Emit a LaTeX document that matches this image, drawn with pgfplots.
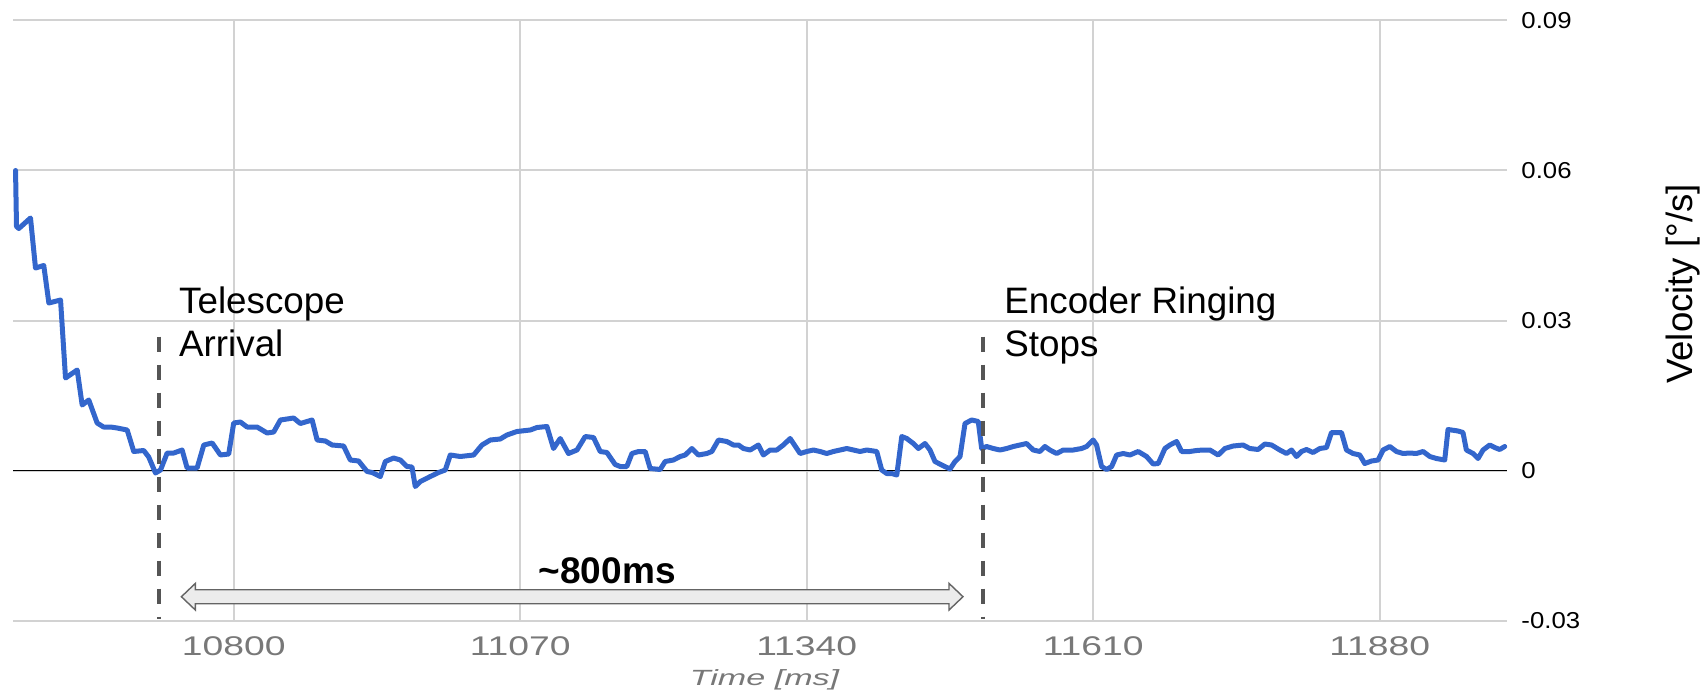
\documentclass[border=0pt]{standalone}
\usepackage{pgfplots}
\pgfplotsset{compat=1.18}
\usepackage{fontspec}
\setmainfont{Liberation Sans}
\definecolor{gline}{RGB}{51,102,204}
\definecolor{gridc}{RGB}{210,210,210}
\definecolor{dashc}{RGB}{85,85,85}
\definecolor{tickg}{RGB}{120,120,120}
\definecolor{arrfill}{RGB}{236,236,236}
\definecolor{arrdraw}{RGB}{100,100,100}

\pgfplotstableread{
t v
10594.4 0.0600
10595.3 0.0488
10597.5 0.0484
10608.5 0.0505
10613.2 0.0405
10621.0 0.0410
10625.8 0.0335
10636.8 0.0341
10641.5 0.0185
10652.5 0.0201
10657.2 0.0131
10663.4 0.0141
10671.3 0.0095
10677.3 0.0087
10683.9 0.0087
10690.2 0.0085
10699.6 0.0081
10705.8 0.0038
10715.2 0.0040
10719.9 0.0027
10726.3 -0.0005
10731.0 0.0001
10737.3 0.0035
10743.5 0.0035
10751.4 0.0041
10756.1 0.0005
10765.5 0.0005
10771.8 0.0051
10779.7 0.0055
10787.5 0.0031
10795.3 0.0033
10800.0 0.0095
10806.3 0.0097
10812.6 0.0087
10822.0 0.0087
10831.5 0.0075
10837.7 0.0077
10844.0 0.0101
10856.5 0.0105
10862.8 0.0094
10873.9 0.0101
10878.6 0.0061
10886.4 0.0059
10892.7 0.0051
10903.6 0.0049
10909.9 0.0021
10917.7 0.0019
10925.7 -0.0002
10930.4 -0.0004
10938.2 -0.0012
10942.9 0.0018
10950.7 0.0025
10957.0 0.0021
10963.3 0.0008
10968.0 0.0007
10971.1 -0.0032
10975.9 -0.0022
10985.3 -0.0012
10993.1 -0.0004
10999.4 0.0001
11004.1 0.0031
11013.5 0.0028
11026.1 0.0031
11034.0 0.0051
11041.8 0.0061
11051.2 0.0063
11057.5 0.0071
11066.9 0.0078
11079.5 0.0081
11085.8 0.0086
11095.2 0.0088
11101.4 0.0044
11107.7 0.0064
11115.5 0.0034
11123.5 0.0041
11131.3 0.0068
11139.1 0.0066
11145.4 0.0038
11151.7 0.0036
11159.5 0.0012
11164.2 0.0008
11170.5 0.0008
11175.3 0.0034
11181.5 0.0038
11187.8 0.0038
11192.5 0.0004
11201.9 0.0002
11206.6 0.0018
11214.4 0.0021
11220.8 0.0028
11225.5 0.0031
11231.8 0.0044
11238.0 0.0031
11245.9 0.0034
11250.6 0.0038
11256.8 0.0061
11264.7 0.0058
11271.0 0.0051
11275.7 0.0051
11280.4 0.0044
11286.7 0.0041
11294.5 0.0051
11299.2 0.0031
11305.5 0.0041
11311.8 0.0041
11318.0 0.0051
11324.4 0.0064
11333.8 0.0034
11340.1 0.0038
11346.3 0.0041
11352.6 0.0038
11358.9 0.0034
11365.1 0.0038
11371.5 0.0041
11377.8 0.0044
11384.0 0.0041
11390.3 0.0038
11396.6 0.0041
11406.0 0.0038
11410.7 0.0001
11415.4 -0.0006
11420.1 -0.0006
11424.9 -0.0009
11429.6 0.0068
11434.3 0.0064
11440.5 0.0054
11445.2 0.0044
11451.5 0.0054
11456.2 0.0041
11460.9 0.0018
11467.2 0.0011
11475.1 0.0003
11479.8 0.0018
11484.5 0.0028
11489.2 0.0094
11495.5 0.0101
11501.7 0.0098
11504.9 0.0044
11509.6 0.0048
11515.8 0.0044
11522.2 0.0041
11528.5 0.0044
11534.7 0.0048
11541.0 0.0051
11547.3 0.0054
11553.5 0.0041
11559.8 0.0038
11564.5 0.0048
11569.2 0.0041
11575.6 0.0034
11581.8 0.0041
11591.2 0.0041
11599.1 0.0044
11603.8 0.0048
11610.0 0.0061
11613.2 0.0051
11617.9 0.0008
11622.7 0.0002
11627.4 0.0008
11632.1 0.0031
11638.3 0.0034
11644.6 0.0031
11652.4 0.0038
11660.3 0.0028
11666.5 0.0013
11671.3 0.0014
11677.6 0.0044
11682.3 0.0051
11688.6 0.0058
11693.3 0.0038
11701.1 0.0038
11707.4 0.0040
11713.6 0.0041
11720.0 0.0041
11727.8 0.0031
11734.1 0.0044
11741.9 0.0049
11751.3 0.0051
11757.6 0.0044
11765.4 0.0042
11771.8 0.0053
11778.1 0.0051
11785.9 0.0041
11792.2 0.0034
11796.9 0.0041
11801.6 0.0028
11806.3 0.0038
11811.0 0.0042
11817.2 0.0036
11823.6 0.0044
11829.9 0.0046
11834.6 0.0076
11844.0 0.0076
11848.7 0.0041
11854.9 0.0034
11861.2 0.0031
11865.9 0.0014
11872.3 0.0019
11878.5 0.0021
11883.2 0.0041
11889.5 0.0048
11895.8 0.0038
11902.0 0.0034
11908.3 0.0035
11914.6 0.0034
11920.9 0.0038
11927.2 0.0028
11933.5 0.0024
11941.3 0.0021
11944.4 0.0082
11953.8 0.0079
11958.5 0.0076
11961.7 0.0041
11968.0 0.0034
11972.7 0.0024
11977.4 0.0041
11983.7 0.0051
11988.4 0.0046
11993.1 0.0042
11997.8 0.0048
}\velocitydata

\begin{document}
\begin{tikzpicture}
\useasboundingbox (-6.5pt,-38.25pt) rectangle (846.5pt,310.25pt);
\begin{axis}[
  at={(0,0)}, anchor=south west,
  scale only axis, width=747pt, height=300pt,
  xmin=10592, xmax=12000, ymin=-0.03, ymax=0.09,
  axis line style={draw=none},
  major tick length=0pt,
  scaled y ticks=false, scaled x ticks=false,
  xtick={10800,11070,11340,11610,11880},
  xticklabels={10800,11070,11340,11610,11880},
  ytick={-0.03,0,0.03,0.06,0.09},
  yticklabels={-0.03,0,0.03,0.06,0.09},
  yticklabel pos=right,
  grid=major,
  major grid style={gridc, line width=1pt},
  xticklabel style={font=\fontsize{13.5}{13.5}\selectfont, text=tickg, anchor=base, inner sep=0pt, yshift=-17.25pt, xscale=1.38},
  yticklabel style={font=\fontsize{11.5}{11.5}\selectfont, text=black, anchor=west, inner sep=0pt, xshift=7pt, xscale=1.12},
  clip=false,
]
\draw[black, line width=0.9pt] (axis cs:10592,0) -- (axis cs:12000,0);
\addplot[gline, line width=2.5pt, line join=round, line cap=round, mark=none] table[x=t, y=v] {\velocitydata};
\draw[dashc, line width=2pt, dash pattern=on 7.5pt off 6.5pt] (axis cs:10729.4,0.0268) -- (axis cs:10729.4,-0.0297);
\draw[dashc, line width=2pt, dash pattern=on 7.5pt off 6.5pt] (axis cs:11506.6,0.0268) -- (axis cs:11506.6,-0.0297);
\coordinate (L) at (axis cs:10750.7,-0.02524);
\coordinate (R) at (axis cs:11487.3,-0.02524);
\node[anchor=base west, inner sep=0pt, font=\fontsize{18.4}{21.7}\selectfont] at (axis cs:10748.2,0.03144) {Telescope};
\node[anchor=base west, inner sep=0pt, font=\fontsize{18.4}{21.7}\selectfont] at (axis cs:10748.2,0.02276) {Arrival};
\node[anchor=base west, inner sep=0pt, font=\fontsize{18.4}{21.7}\selectfont] at (axis cs:11525.9,0.03144) {Encoder Ringing};
\node[anchor=base west, inner sep=0pt, font=\fontsize{18.4}{21.7}\selectfont] at (axis cs:11525.9,0.02276) {Stops};
\node[anchor=base, inner sep=0pt, font=\bfseries\fontsize{18.5}{20}\selectfont] at (axis cs:11152,-0.02256) {\textasciitilde 800ms};
\end{axis}
\draw[fill=arrfill, draw=arrdraw, line width=0.7pt, line join=miter]
  (L) -- ([shift={(7pt,6.67pt)}]L) -- ([shift={(7pt,3.5pt)}]L) -- ([shift={(-7pt,3.5pt)}]R)
  -- ([shift={(-7pt,6.67pt)}]R) -- (R) -- ([shift={(-7pt,-6.67pt)}]R) -- ([shift={(-7pt,-3.5pt)}]R)
  -- ([shift={(7pt,-3.5pt)}]L) -- ([shift={(7pt,-6.67pt)}]L) -- cycle;
\node[anchor=base, inner sep=0pt, text=tickg, font=\itshape\fontsize{11}{11}\selectfont, xscale=1.55] at (375.75pt,-32.5pt) {Time [ms]};
\node[rotate=90, anchor=center, inner sep=0pt, font=\fontsize{18.3}{20}\selectfont] at (835pt,168.25pt) {Velocity [°/s]};
\end{tikzpicture}
\end{document}
